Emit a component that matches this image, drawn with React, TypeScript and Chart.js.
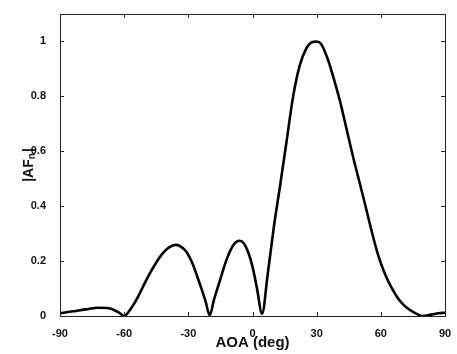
import React, { useEffect, useRef } from "react";
import { Chart, registerables } from "chart.js";

Chart.register(...registerables);

const angles = [
  -90, -84, -78, -72, -68, -65, -62, -60, -57, -54, -51, -48, -45, -42, -39, -36, -34, -31, -28, -25, -22, -20,
  -18, -15, -12, -9, -6, -4, -2, 0, 2, 4.5, 7, 10, 13, 16, 19, 22, 25, 28, 30, 32, 35, 38, 41, 44, 47, 50, 53,
  56, 59, 62, 65, 68, 71, 74, 77, 79.5, 84, 87, 90,
];
const afValues = [
  0.010, 0.017, 0.024, 0.030, 0.029, 0.023, 0.010, 0.000, 0.025, 0.063, 0.110, 0.155, 0.195, 0.228, 0.250, 0.259,
  0.255, 0.235, 0.190, 0.125, 0.055, 0.003, 0.060, 0.135, 0.208, 0.258, 0.274, 0.264, 0.232, 0.180, 0.105, 0.008,
  0.145, 0.325, 0.480, 0.640, 0.800, 0.910, 0.972, 0.998, 1.000, 0.992, 0.940, 0.865, 0.780, 0.680, 0.580, 0.488,
  0.395, 0.300, 0.215, 0.152, 0.103, 0.065, 0.038, 0.020, 0.007, 0.000, 0.006, 0.010, 0.012,
];
const xTicks = [-90, -60, -30, 0, 30, 60, 90];
const yTicks = [0, 0.2, 0.4, 0.6, 0.8, 1];
const yTickLabels = ["0", "0.2", "0.4", "0.6", "0.8", "1"];
const xTitle = "AOA (deg)";
const yTitleMain = "|AF";
const yTitleSub = "n";
const yTitleEnd = "|";

const FONT = "'Liberation Sans', Arial, sans-serif";

const framePlugin = {
  id: "frame",
  afterDraw(chart: any) {
    const { ctx, chartArea } = chart;
    const { left, right, top, bottom } = chartArea;
    const xs = chart.scales.x;
    const ys = chart.scales.y;
    ctx.save();
    ctx.strokeStyle = "#222";
    ctx.lineWidth = 1;
    ctx.strokeRect(left + 0.5, top + 0.5, right - left, bottom - top);
    const tl = 4;
    ctx.beginPath();
    xTicks.forEach((v) => {
      const px = Math.round(xs.getPixelForValue(v)) + 0.5;
      ctx.moveTo(px, bottom);
      ctx.lineTo(px, bottom - tl);
      ctx.moveTo(px, top);
      ctx.lineTo(px, top + tl);
    });
    yTicks.forEach((v) => {
      const py = Math.round(ys.getPixelForValue(v)) + 0.5;
      ctx.moveTo(left, py);
      ctx.lineTo(left + tl, py);
      ctx.moveTo(right, py);
      ctx.lineTo(right - tl, py);
    });
    ctx.stroke();

    // Axis titles
    ctx.fillStyle = "#111";
    ctx.textAlign = "center";
    ctx.textBaseline = "middle";
    ctx.font = `bold 15px ${FONT}`;
    ctx.fillText(xTitle, (left + right) / 2, 343);

    ctx.translate(28, (top + bottom) / 2);
    ctx.rotate(-Math.PI / 2);
    ctx.font = `bold 14px ${FONT}`;
    const wMain = ctx.measureText(yTitleMain).width;
    const wEnd = ctx.measureText(yTitleEnd).width;
    ctx.font = `bold 10px ${FONT}`;
    const wSub = ctx.measureText(yTitleSub).width;
    const total = wMain + wSub + wEnd + 1;
    let x0 = -total / 2;
    ctx.textAlign = "left";
    ctx.textBaseline = "alphabetic";
    ctx.font = `bold 14px ${FONT}`;
    ctx.fillText(yTitleMain, x0, 5);
    x0 += wMain;
    ctx.font = `bold 10px ${FONT}`;
    ctx.fillText(yTitleSub, x0, 7);
    x0 += wSub + 1;
    ctx.font = `bold 14px ${FONT}`;
    ctx.fillText(yTitleEnd, x0, 5);
    ctx.restore();
  },
};

export default function App() {
  const canvasRef = useRef<HTMLCanvasElement | null>(null);

  useEffect(() => {
    if (!canvasRef.current) return;
    const chart = new Chart(canvasRef.current, {
      type: "line",
      data: {
        datasets: [
          {
            data: angles.map((a, i) => ({ x: a, y: afValues[i] })),
            borderColor: "#000",
            borderWidth: 2.6,
            pointRadius: 0,
            fill: false,
            cubicInterpolationMode: "monotone",
          },
        ],
      },
      options: {
        animation: false,
        responsive: false,
        maintainAspectRatio: false,
        layout: { padding: { left: 0, top: 14, right: 12, bottom: 0 } },
        plugins: { legend: { display: false }, tooltip: { enabled: false } },
        scales: {
          x: {
            type: "linear",
            min: -90,
            max: 90,
            grid: { display: false },
            border: { display: false },
            afterBuildTicks: (s: any) => {
              s.ticks = xTicks.map((v) => ({ value: v }));
            },
            afterFit: (s: any) => {
              s.height = 38;
            },
            ticks: {
              color: "#111",
              font: { family: FONT, size: 11, weight: "bold" },
              padding: 3,
              maxRotation: 0,
              autoSkip: false,
              callback: (v: any) => String(v),
            },
          },
          y: {
            type: "linear",
            min: 0,
            max: 1.1,
            grid: { display: false },
            border: { display: false },
            afterBuildTicks: (s: any) => {
              s.ticks = yTicks.map((v) => ({ value: v }));
            },
            afterFit: (s: any) => {
              s.width = 60;
            },
            ticks: {
              color: "#111",
              font: { family: FONT, size: 11, weight: "bold" },
              padding: 6,
              autoSkip: false,
              callback: (v: any) => {
                const i = yTicks.findIndex((t) => Math.abs(t - v) < 1e-6);
                return i >= 0 ? yTickLabels[i] : "";
              },
            },
          },
        },
      },
      plugins: [framePlugin],
    });
    return () => chart.destroy();
  }, []);

  return (
    <div style={{ position: "fixed", left: 0, top: 0, width: 457, height: 354, background: "#fff" }}>
      <canvas ref={canvasRef} width={457} height={354} style={{ width: 457, height: 354 }} />
    </div>
  );
}
